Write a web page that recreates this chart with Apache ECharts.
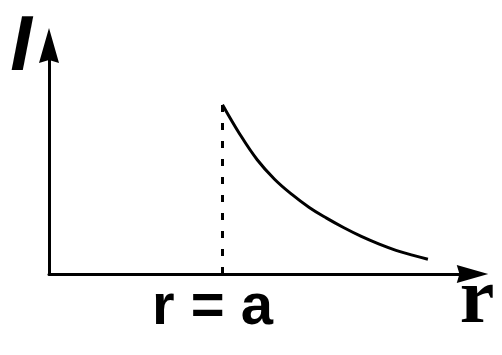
<!DOCTYPE html>
<html>
<head>
<meta charset="utf-8">
<script src="https://cdn.jsdelivr.net/npm/echarts@6/dist/echarts.min.js"></script>
<style>html,body{margin:0;padding:0;background:#fff}#c{width:502px;height:355px}</style>
</head>
<body>
<div id="c"></div>
<script>
// r in units of a, I in units of I(a)
const curveR = [1.0, 1.1, 1.2, 1.3, 1.4, 1.5, 1.6, 1.7, 1.8, 1.9, 2.0, 2.1, 2.184];
const curveI = [1.0, 0.826, 0.675, 0.560, 0.470, 0.393, 0.330, 0.273, 0.222, 0.178, 0.140, 0.110, 0.087];
const markerR = [1.0, 1.0];
const markerI = [0.0, 1.0];
const yAxisLabel = 'I';
const xAxisLabel = 'r';
const markerLabel = 'r = a';

const chart = echarts.init(document.getElementById('c'), null, {renderer: 'canvas'});
const arrowPath = 'path://M10,0 L20,35 L10,32 L0,35 Z';
const axisCommon = {
  type: 'value',
  axisLine: {show: true, symbol: ['none', arrowPath], lineStyle: {color: '#000', width: 3}},
  axisTick: {show: false},
  axisLabel: {show: false},
  splitLine: {show: false}
};
chart.setOption({
  animation: false,
  backgroundColor: '#fff',
  grid: {left: 49, right: 29.5, top: 45.5, bottom: 81},
  xAxis: Object.assign({}, axisCommon, {min: 0, max: 2.441,
    axisLine: Object.assign({}, axisCommon.axisLine, {symbolSize: [18, 35]})}),
  yAxis: Object.assign({}, axisCommon, {min: 0, max: 1.35,
    axisLine: Object.assign({}, axisCommon.axisLine, {symbolSize: [20, 35]})}),
  series: [
    {type: 'line', data: markerR.map((r, i) => [r, markerI[i]]), showSymbol: false,
     lineStyle: {color: '#000', width: 3, type: [7, 11], cap: 'butt'}},
    {type: 'line', data: curveR.map((r, i) => [r, curveI[i]]), smooth: 0.4, showSymbol: false,
     lineStyle: {color: '#000', width: 3}}
  ],
  graphic: [
    {type: 'text', x: 21, y: 48, style: {text: yAxisLabel, fontFamily: '"Liberation Sans", Arial, sans-serif', fontStyle: 'italic', fontWeight: 'bold', fontSize: 78, fill: '#000', align: 'center', verticalAlign: 'middle'}},
    {type: 'text', x: 212.5, y: 307.5, style: {text: markerLabel, fontFamily: '"Liberation Sans", Arial, sans-serif', fontWeight: 'bold', fontSize: 58, fill: '#000', align: 'center', verticalAlign: 'middle'}},
    {type: 'text', x: 477, y: 302, style: {text: xAxisLabel, fontFamily: '"Liberation Serif", "Times New Roman", serif', fontWeight: 'bold', fontSize: 78, fill: '#000', align: 'center', verticalAlign: 'middle'}}
  ]
});
</script>
</body>
</html>
